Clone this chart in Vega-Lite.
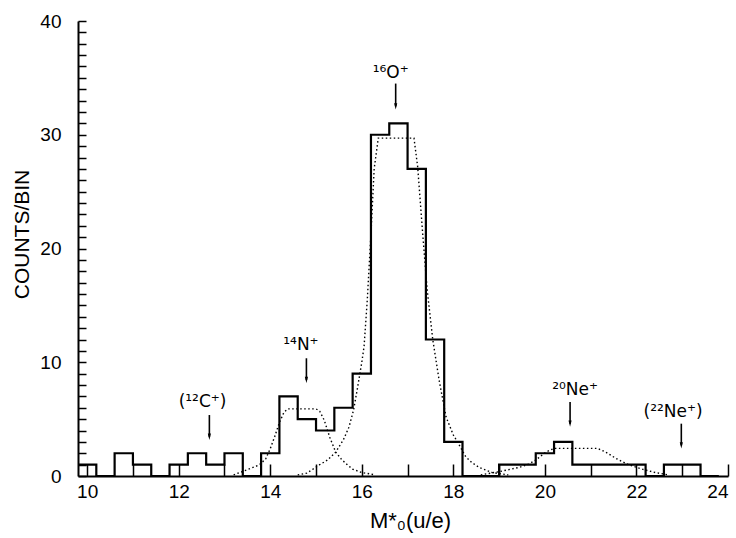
{
  "$schema": "https://vega.github.io/schema/vega-lite/v6.json",
  "autosize": "none",
  "width": 650,
  "height": 455,
  "padding": {"left": 78, "top": 21, "right": 8, "bottom": 62},
  "background": "white",
  "config": {
    "view": {"stroke": null},
    "font": "Liberation Sans",
    "axis": {
      "domainColor": "black",
      "domainWidth": 2,
      "labelColor": "black",
      "titleColor": "black",
      "labelFont": "Liberation Sans",
      "titleFont": "Liberation Sans",
      "labelFontSize": 19,
      "titleFontSize": 21,
      "titleFontWeight": "normal",
      "labelOverlap": false,
      "grid": false
    }
  },
  "datasets": {
    "hist": [
      {"m": 9.8, "count": 1}, {"m": 10.2, "count": 0}, {"m": 10.6, "count": 2},
      {"m": 11.0, "count": 1}, {"m": 11.4, "count": 0}, {"m": 11.8, "count": 1},
      {"m": 12.2, "count": 2}, {"m": 12.6, "count": 1}, {"m": 13.0, "count": 2},
      {"m": 13.4, "count": 0}, {"m": 13.8, "count": 2}, {"m": 14.2, "count": 7},
      {"m": 14.6, "count": 5}, {"m": 15.0, "count": 4}, {"m": 15.4, "count": 6},
      {"m": 15.8, "count": 9}, {"m": 16.2, "count": 30}, {"m": 16.6, "count": 31},
      {"m": 17.0, "count": 27}, {"m": 17.4, "count": 12}, {"m": 17.8, "count": 3},
      {"m": 18.2, "count": 0}, {"m": 18.6, "count": 0}, {"m": 19.0, "count": 1},
      {"m": 19.4, "count": 1}, {"m": 19.8, "count": 2}, {"m": 20.2, "count": 3},
      {"m": 20.6, "count": 1}, {"m": 21.0, "count": 1}, {"m": 21.4, "count": 1},
      {"m": 21.8, "count": 1}, {"m": 22.2, "count": 0}, {"m": 22.6, "count": 1},
      {"m": 23.0, "count": 1}, {"m": 23.4, "count": 0}, {"m": 23.8, "count": 0}
    ],
    "fits": [
      {"ion": "N", "m": 13.2, "c": 0.1}, {"ion": "N", "m": 13.43, "c": 0.45},
      {"ion": "N", "m": 13.76, "c": 0.97}, {"ion": "N", "m": 13.9, "c": 1.5},
      {"ion": "N", "m": 14.0, "c": 2.4}, {"ion": "N", "m": 14.1, "c": 3.5},
      {"ion": "N", "m": 14.2, "c": 4.7}, {"ion": "N", "m": 14.3, "c": 5.6},
      {"ion": "N", "m": 14.38, "c": 5.9}, {"ion": "N", "m": 15.0, "c": 5.9},
      {"ion": "N", "m": 15.08, "c": 5.7}, {"ion": "N", "m": 15.18, "c": 4.9},
      {"ion": "N", "m": 15.3, "c": 3.4}, {"ion": "N", "m": 15.43, "c": 2.1},
      {"ion": "N", "m": 15.55, "c": 1.5}, {"ion": "N", "m": 15.65, "c": 1.1},
      {"ion": "N", "m": 15.8, "c": 0.6}, {"ion": "N", "m": 16.0, "c": 0.3},
      {"ion": "N", "m": 16.3, "c": 0.1},
      {"ion": "O", "m": 14.6, "c": 0.1}, {"ion": "O", "m": 14.8, "c": 0.25},
      {"ion": "O", "m": 15.07, "c": 0.97}, {"ion": "O", "m": 15.25, "c": 1.4},
      {"ion": "O", "m": 15.43, "c": 2.1}, {"ion": "O", "m": 15.6, "c": 3.2},
      {"ion": "O", "m": 15.72, "c": 4.3}, {"ion": "O", "m": 15.82, "c": 5.8},
      {"ion": "O", "m": 15.9, "c": 7.6}, {"ion": "O", "m": 16.0, "c": 10.0},
      {"ion": "O", "m": 16.05, "c": 11.4}, {"ion": "O", "m": 16.12, "c": 15.5},
      {"ion": "O", "m": 16.2, "c": 21.3}, {"ion": "O", "m": 16.27, "c": 27.0},
      {"ion": "O", "m": 16.36, "c": 29.7}, {"ion": "O", "m": 17.14, "c": 29.7},
      {"ion": "O", "m": 17.22, "c": 27.2}, {"ion": "O", "m": 17.33, "c": 21.3},
      {"ion": "O", "m": 17.43, "c": 16.3}, {"ion": "O", "m": 17.55, "c": 12.0},
      {"ion": "O", "m": 17.69, "c": 8.4}, {"ion": "O", "m": 17.84, "c": 5.2},
      {"ion": "O", "m": 18.0, "c": 3.6}, {"ion": "O", "m": 18.09, "c": 3.0},
      {"ion": "O", "m": 18.27, "c": 1.7}, {"ion": "O", "m": 18.4, "c": 1.2},
      {"ion": "O", "m": 18.56, "c": 0.76}, {"ion": "O", "m": 18.85, "c": 0.3},
      {"ion": "O", "m": 19.2, "c": 0.1},
      {"ion": "Ne", "m": 18.6, "c": 0.1}, {"ion": "Ne", "m": 19.0, "c": 0.38},
      {"ion": "Ne", "m": 19.44, "c": 0.76}, {"ion": "Ne", "m": 19.65, "c": 1.05},
      {"ion": "Ne", "m": 19.8, "c": 1.4}, {"ion": "Ne", "m": 20.02, "c": 2.1},
      {"ion": "Ne", "m": 20.2, "c": 2.43}, {"ion": "Ne", "m": 21.15, "c": 2.43},
      {"ion": "Ne", "m": 21.33, "c": 2.1}, {"ion": "Ne", "m": 21.55, "c": 1.55},
      {"ion": "Ne", "m": 21.84, "c": 0.97}, {"ion": "Ne", "m": 22.13, "c": 0.6},
      {"ion": "Ne", "m": 22.42, "c": 0.3}, {"ion": "Ne", "m": 22.7, "c": 0.1}
    ],
    "labels": [
      {"text": "(¹²C⁺)", "lx": 12.52, "ly": 6.1, "ax": 12.67, "atop": 5.36, "atip": 3.45},
      {"text": "¹⁴N⁺", "lx": 14.67, "ly": 11.1, "ax": 14.79, "atop": 10.35, "atip": 8.44},
      {"text": "¹⁶O⁺", "lx": 16.63, "ly": 35.0, "ax": 16.74, "atop": 34.5, "atip": 32.5},
      {"text": "²⁰Ne⁺", "lx": 20.66, "ly": 7.1, "ax": 20.55, "atop": 6.5, "atip": 4.6},
      {"text": "(²²Ne⁺)", "lx": 22.8, "ly": 5.2, "ax": 22.98, "atop": 4.6, "atip": 2.7}
    ]
  },
  "layer": [
    {
      "data": {"name": "hist"},
      "mark": {"type": "line", "interpolate": "step-after", "color": "black", "strokeWidth": 2.2},
      "encoding": {
        "x": {
          "field": "m", "type": "quantitative",
          "scale": {"domain": [9.8, 24], "nice": false, "zero": false},
          "axis": {
            "values": [10, 11, 12, 13, 14, 15, 16, 17, 18, 19, 20, 21, 22, 23, 24],
            "tickCount": 200,
            "format": "d",
            "ticks": true,
            "zindex": 1,
            "tickColor": "black",
            "tickWidth": 1.5,
            "tickSize": -12,
            "labelExpr": "datum.value % 2 === 0 ? datum.label : ''",
            "labelPadding": 18,
            "title": "M*₀(u/e)",
            "titleFontSize": 22,
            "titleX": 332,
            "titleY": 44,
            "titleBaseline": "middle",
            "titleAlign": "center"
          }
        },
        "y": {
          "field": "count", "type": "quantitative",
          "scale": {"domain": [0, 40], "nice": false},
          "axis": {
            "values": [0,1,2,3,4,5,6,7,8,9,10,11,12,13,14,15,16,17,18,19,20,21,22,23,24,25,26,27,28,29,30,31,32,33,34,35,36,37,38,39,40],
            "tickCount": 200,
            "format": "d",
            "ticks": true,
            "zindex": 1,
            "tickColor": "black",
            "tickWidth": 1.5,
            "tickSize": -8,
            "encode": {"ticks": {"update": {"x2": {"signal": "datum.value % 10 === 0 ? 15 : (datum.value % 5 === 0 ? 11 : 8)"}}}},
            "labelExpr": "datum.value % 10 === 0 ? datum.label : ''",
            "labelPadding": 25,
            "title": "COUNTS/BIN",
            "titleAngle": 270,
            "titleX": -56,
            "titleY": 213,
            "titleBaseline": "middle",
            "titleAlign": "center"
          }
        }
      }
    },
    {
      "data": {"name": "fits"},
      "mark": {"type": "line", "color": "black", "strokeWidth": 1.4, "strokeDash": [1.5, 2.5]},
      "encoding": {
        "x": {"field": "m", "type": "quantitative"},
        "y": {"field": "c", "type": "quantitative"},
        "detail": {"field": "ion"}
      }
    },
    {
      "data": {"name": "labels"},
      "mark": {"type": "text", "font": "DejaVu Sans", "fontSize": 17, "color": "black", "baseline": "alphabetic", "align": "center"},
      "encoding": {
        "x": {"field": "lx", "type": "quantitative"},
        "y": {"field": "ly", "type": "quantitative"},
        "text": {"field": "text"}
      }
    },
    {
      "data": {"name": "labels"},
      "mark": {"type": "rule", "color": "black", "strokeWidth": 1.6},
      "encoding": {
        "x": {"field": "ax", "type": "quantitative"},
        "y": {"field": "atop", "type": "quantitative"},
        "y2": {"field": "atip"}
      }
    },
    {
      "data": {"name": "labels"},
      "mark": {"type": "point", "shape": "M-0.5,-1L0.5,-1L0,1Z", "filled": true, "color": "black", "size": 40, "opacity": 1},
      "encoding": {
        "x": {"field": "ax", "type": "quantitative"},
        "y": {"field": "atip", "type": "quantitative"}
      }
    }
  ]
}
